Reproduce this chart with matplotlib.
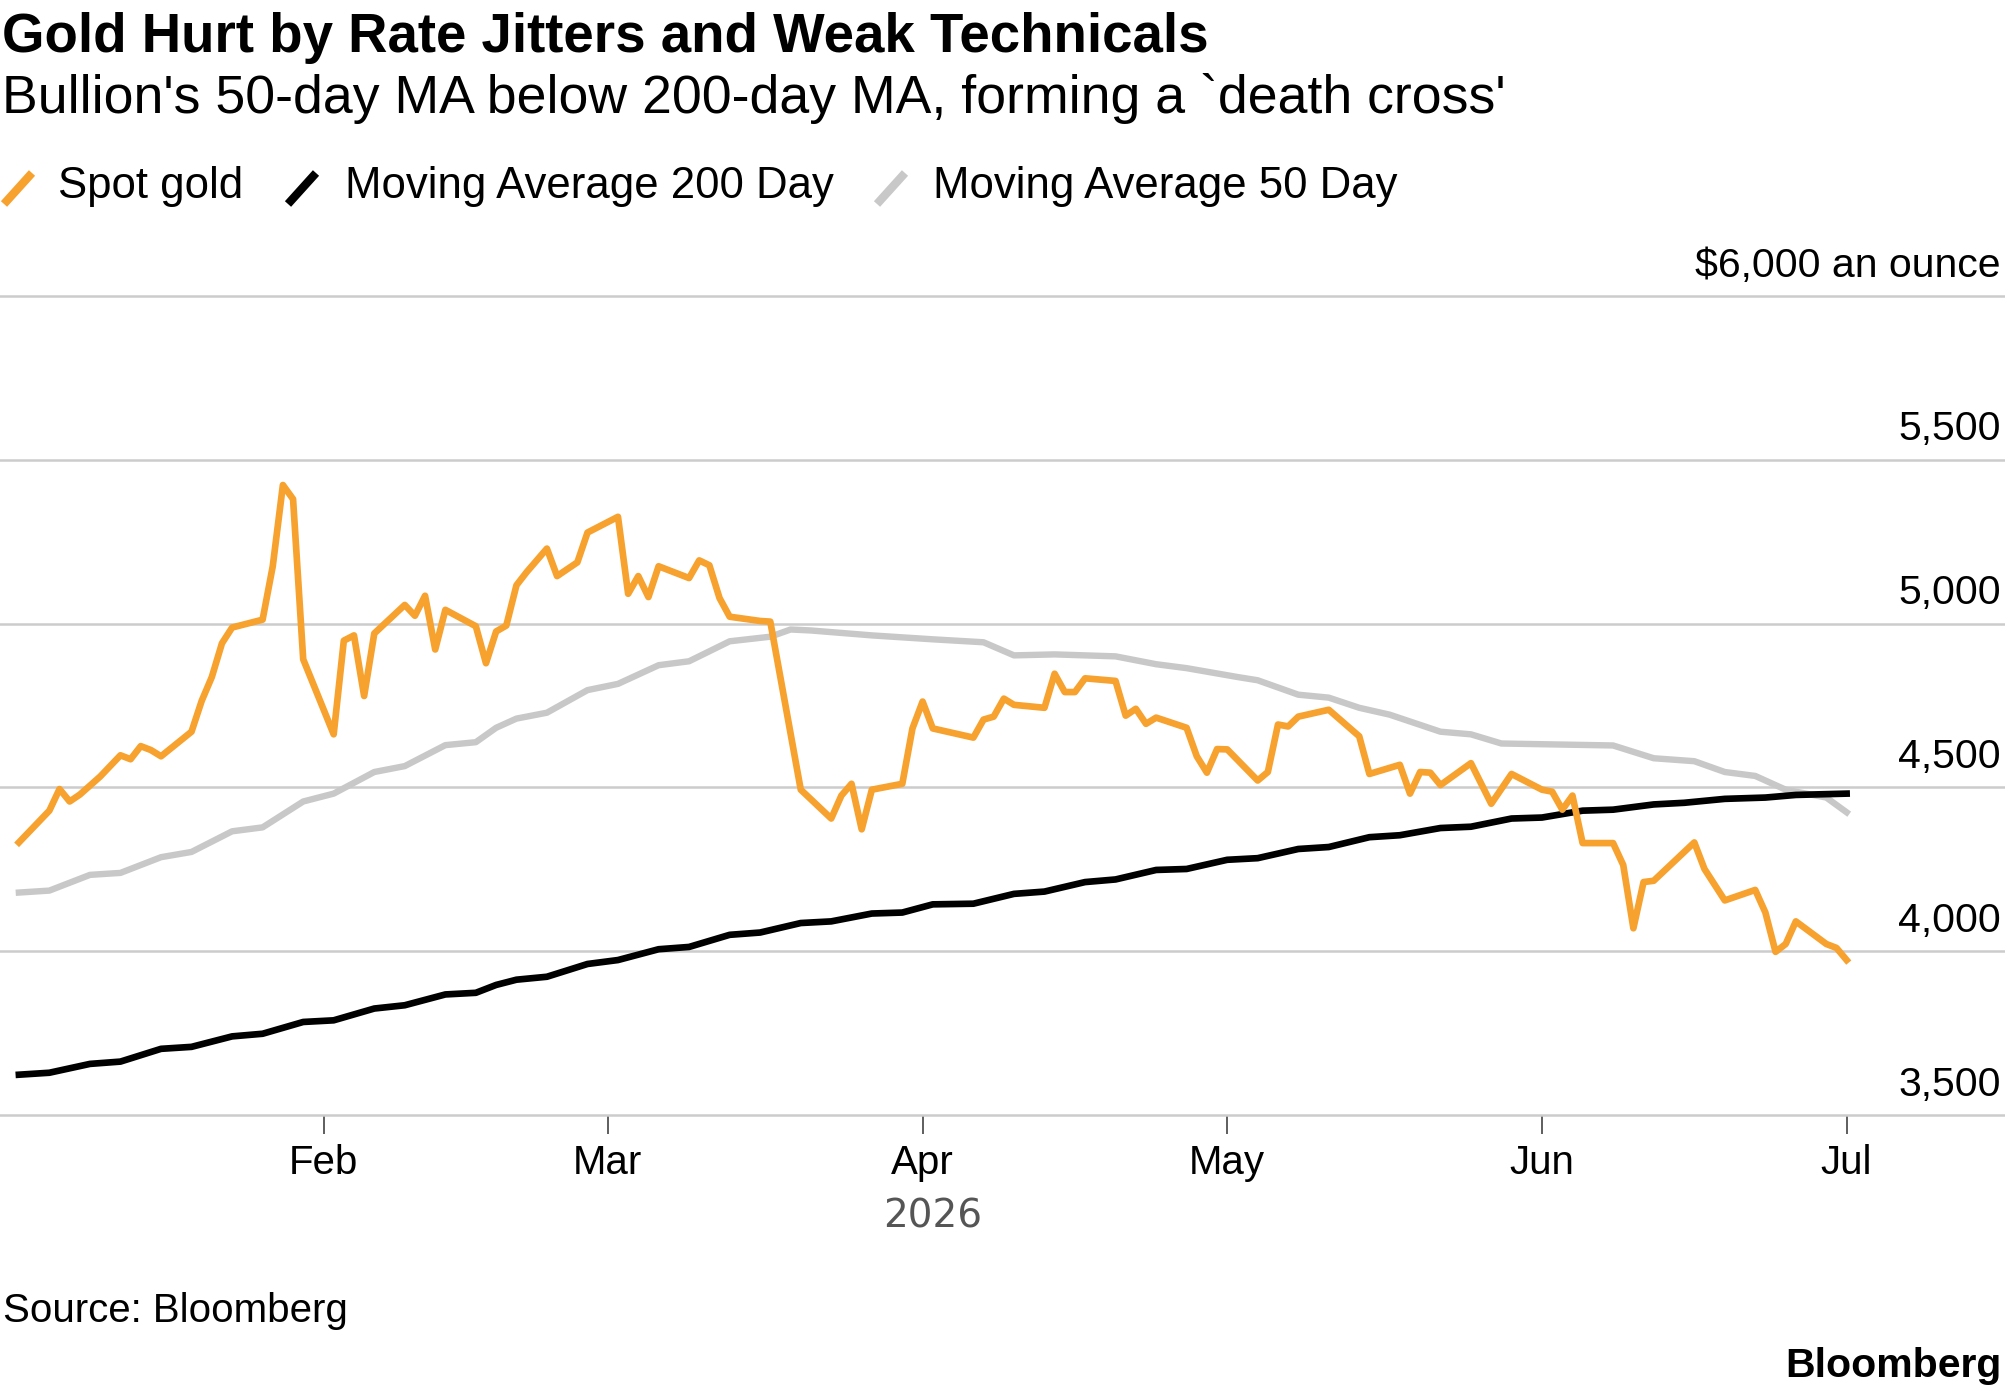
import matplotlib
matplotlib.use('Agg')
import matplotlib.pyplot as plt
import matplotlib.dates as mdates
from matplotlib.lines import Line2D
from matplotlib import transforms
import pandas as pd

plt.rcParams['font.family'] = ['Liberation Sans', 'DejaVu Sans']

# data
gold_dates = ['2026-01-02', '2026-01-05', '2026-01-06', '2026-01-07', '2026-01-08', '2026-01-10',
              '2026-01-12', '2026-01-13', '2026-01-14', '2026-01-15', '2026-01-16', '2026-01-19',
              '2026-01-20', '2026-01-21', '2026-01-22', '2026-01-23', '2026-01-26', '2026-01-27',
              '2026-01-28', '2026-01-29', '2026-01-30', '2026-02-02', '2026-02-03', '2026-02-04',
              '2026-02-05', '2026-02-06', '2026-02-09', '2026-02-10', '2026-02-11', '2026-02-12',
              '2026-02-13', '2026-02-16', '2026-02-17', '2026-02-18', '2026-02-19', '2026-02-20',
              '2026-02-21', '2026-02-23', '2026-02-24', '2026-02-26', '2026-02-27', '2026-03-02',
              '2026-03-03', '2026-03-04', '2026-03-05', '2026-03-06', '2026-03-09', '2026-03-10',
              '2026-03-11', '2026-03-12', '2026-03-13', '2026-03-16', '2026-03-17', '2026-03-20',
              '2026-03-23', '2026-03-24', '2026-03-25', '2026-03-26', '2026-03-27', '2026-03-30',
              '2026-03-31', '2026-04-01', '2026-04-02', '2026-04-06', '2026-04-07', '2026-04-08',
              '2026-04-09', '2026-04-10', '2026-04-13', '2026-04-14', '2026-04-15', '2026-04-16',
              '2026-04-17', '2026-04-20', '2026-04-21', '2026-04-22', '2026-04-23', '2026-04-24',
              '2026-04-27', '2026-04-28', '2026-04-29', '2026-04-30', '2026-05-01', '2026-05-04',
              '2026-05-05', '2026-05-06', '2026-05-07', '2026-05-08', '2026-05-11', '2026-05-12',
              '2026-05-14', '2026-05-15', '2026-05-18', '2026-05-19', '2026-05-20', '2026-05-21',
              '2026-05-22', '2026-05-25', '2026-05-27', '2026-05-29', '2026-06-01', '2026-06-02',
              '2026-06-03', '2026-06-04', '2026-06-05', '2026-06-08', '2026-06-09', '2026-06-10',
              '2026-06-11', '2026-06-12', '2026-06-16', '2026-06-17', '2026-06-19', '2026-06-22',
              '2026-06-23', '2026-06-24', '2026-06-25', '2026-06-26', '2026-06-29', '2026-06-30',
              '2026-07-01']
gold_values = [4332, 4429, 4495, 4457, 4478, 4533, 4598, 4586, 4626, 4614,
               4595, 4670, 4764, 4837, 4940, 4988, 5012, 5175, 5423, 5380,
               4891, 4662, 4948, 4964, 4779, 4970, 5057, 5024, 5085, 4921,
               5042, 4992, 4879, 4976, 4994, 5117, 5157, 5229, 5145, 5187,
               5278, 5326, 5091, 5145, 5081, 5175, 5139, 5193, 5178, 5078,
               5021, 5008, 5006, 4493, 4405, 4475, 4511, 4372, 4493, 4511,
               4680, 4762, 4680, 4652, 4707, 4716, 4771, 4752, 4743, 4847,
               4791, 4791, 4833, 4825, 4719, 4740, 4694, 4713, 4682, 4595,
               4545, 4617, 4616, 4521, 4547, 4692, 4686, 4716, 4737, 4710,
               4656, 4541, 4569, 4481, 4547, 4545, 4507, 4574, 4450, 4541,
               4493, 4487, 4432, 4475, 4330, 4330, 4263, 4070, 4211, 4215,
               4332, 4251, 4155, 4187, 4118, 3998, 4022, 4091, 4022, 4010,
               3973]

ma200_dates = ['2026-01-02', '2026-01-05', '2026-01-09', '2026-01-12', '2026-01-16', '2026-01-19',
               '2026-01-23', '2026-01-26', '2026-01-30', '2026-02-02', '2026-02-06', '2026-02-09',
               '2026-02-13', '2026-02-16', '2026-02-18', '2026-02-20', '2026-02-23', '2026-02-27',
               '2026-03-02', '2026-03-06', '2026-03-09', '2026-03-13', '2026-03-16', '2026-03-20',
               '2026-03-23', '2026-03-27', '2026-03-30', '2026-04-02', '2026-04-06', '2026-04-10',
               '2026-04-13', '2026-04-17', '2026-04-20', '2026-04-24', '2026-04-27', '2026-05-01',
               '2026-05-04', '2026-05-08', '2026-05-11', '2026-05-15', '2026-05-18', '2026-05-22',
               '2026-05-25', '2026-05-29', '2026-06-01', '2026-06-05', '2026-06-08', '2026-06-12',
               '2026-06-15', '2026-06-19', '2026-06-23', '2026-06-26', '2026-07-01']
ma200_values = [3623, 3629, 3656, 3663, 3702, 3708, 3740, 3748, 3784, 3789,
                3825, 3835, 3868, 3873, 3897, 3913, 3922, 3961, 3973, 4006,
                4013, 4050, 4057, 4086, 4091, 4115, 4118, 4143, 4145, 4175,
                4182, 4211, 4219, 4248, 4251, 4279, 4284, 4312, 4318, 4348,
                4354, 4376, 4380, 4405, 4408, 4429, 4432, 4448, 4453, 4465,
                4469, 4477, 4481]

ma50_dates = ['2026-01-02', '2026-01-05', '2026-01-09', '2026-01-12', '2026-01-16', '2026-01-19',
              '2026-01-23', '2026-01-26', '2026-01-30', '2026-02-02', '2026-02-06', '2026-02-09',
              '2026-02-13', '2026-02-16', '2026-02-18', '2026-02-20', '2026-02-23', '2026-02-27',
              '2026-03-02', '2026-03-06', '2026-03-09', '2026-03-13', '2026-03-17', '2026-03-19',
              '2026-03-21', '2026-03-27', '2026-04-02', '2026-04-07', '2026-04-10', '2026-04-14',
              '2026-04-20', '2026-04-24', '2026-04-27', '2026-05-02', '2026-05-04', '2026-05-08',
              '2026-05-11', '2026-05-14', '2026-05-17', '2026-05-22', '2026-05-25', '2026-05-28',
              '2026-06-08', '2026-06-12', '2026-06-16', '2026-06-19', '2026-06-22', '2026-06-25',
              '2026-06-29', '2026-07-01']
ma50_values = [4179, 4185, 4233, 4239, 4287, 4303, 4366, 4378, 4457, 4481,
               4547, 4565, 4629, 4638, 4682, 4710, 4728, 4797, 4816, 4873,
               4885, 4946, 4960, 4982, 4979, 4964, 4952, 4943, 4903, 4906,
               4900, 4876, 4864, 4837, 4827, 4783, 4774, 4743, 4722, 4670,
               4662, 4634, 4628, 4589, 4580, 4547, 4535, 4493, 4469, 4424]

series_names = ['Spot gold', 'Moving Average 200 Day', 'Moving Average 50 Day']
series_colors = ['#F7A12E', '#000000', '#C8C8C8']

y_ticks = [3500, 4000, 4500, 5000, 5500, 6000]
y_labels = ['3,500', '4,000', '4,500', '5,000', '5,500', '$6,000 an ounce']

W, H = 2005, 1392


def fx(px):
    return px / W


def fy(px):
    return 1 - px / H


fig = plt.figure(figsize=(W / 100, H / 100), dpi=100)
ax = fig.add_axes([0, fy(1115), 1, 819 / H])

ax.plot(pd.to_datetime(ma50_dates), ma50_values, color=series_colors[2], lw=4.6, zorder=2)
ax.plot(pd.to_datetime(ma200_dates), ma200_values, color=series_colors[1], lw=4.8, zorder=3)
ax.plot(pd.to_datetime(gold_dates), gold_values, color=series_colors[0], lw=4.8, zorder=4)

ax.set_xlim(pd.Timestamp('2025-12-31 03:20'), pd.Timestamp('2026-07-16 14:20'))
ax.set_ylim(3500, 6000)
for s in ax.spines.values():
    s.set_visible(False)

ax.set_yticks(y_ticks)
ax.tick_params(axis='y', length=0, labelleft=False)
ax.grid(axis='y', color='#CCCCCC', lw=1.8, zorder=1)
for gl in ax.get_ygridlines():
    gl.set_clip_on(False)

# y labels sit above their gridlines at the right edge
lab_tr = transforms.offset_copy(ax.get_yaxis_transform(), fig=fig, y=14, units='points')
for v, lab in zip(y_ticks, y_labels):
    ax.text(0.998, v, lab, transform=lab_tr, ha='right', va='baseline', fontsize=29.5)

ax.xaxis.set_major_locator(mdates.MonthLocator(bymonth=range(2, 8)))
ax.xaxis.set_major_formatter(mdates.DateFormatter('%b'))
ax.tick_params(axis='x', length=13.7, width=1.1, color='#333333', pad=7, labelsize=29)

fig.text(fx(933), fy(1227), '2026', ha='center', va='baseline', fontsize=28,
         color='#555555', family='DejaVu Sans')

# titles
fig.text(fx(2), fy(52), 'Gold Hurt by Rate Jitters and Weak Technicals',
         fontsize=39.3, fontweight='bold', va='baseline')
fig.text(fx(2), fy(113), "Bullion's 50-day MA below 200-day MA, forming a `death cross'",
         fontsize=38.6, va='baseline')

# legend with slanted markers
icon_x = [4, 288, 877]
text_x = [58, 345, 933]
for ix, tx, name, col in zip(icon_x, text_x, series_names, series_colors):
    fig.add_artist(Line2D([fx(ix), fx(ix + 28)], [fy(204), fy(173)], color=col, lw=6,
                          solid_capstyle='butt'))
    fig.text(fx(tx), fy(198), name, fontsize=31.5, va='baseline')

fig.text(fx(3), fy(1322), 'Source: Bloomberg', fontsize=29, va='baseline')
fig.text(fx(2001), fy(1377), 'Bloomberg', fontsize=29.5, fontweight='bold',
         ha='right', va='baseline')

fig.savefig('out.png', dpi=100)
